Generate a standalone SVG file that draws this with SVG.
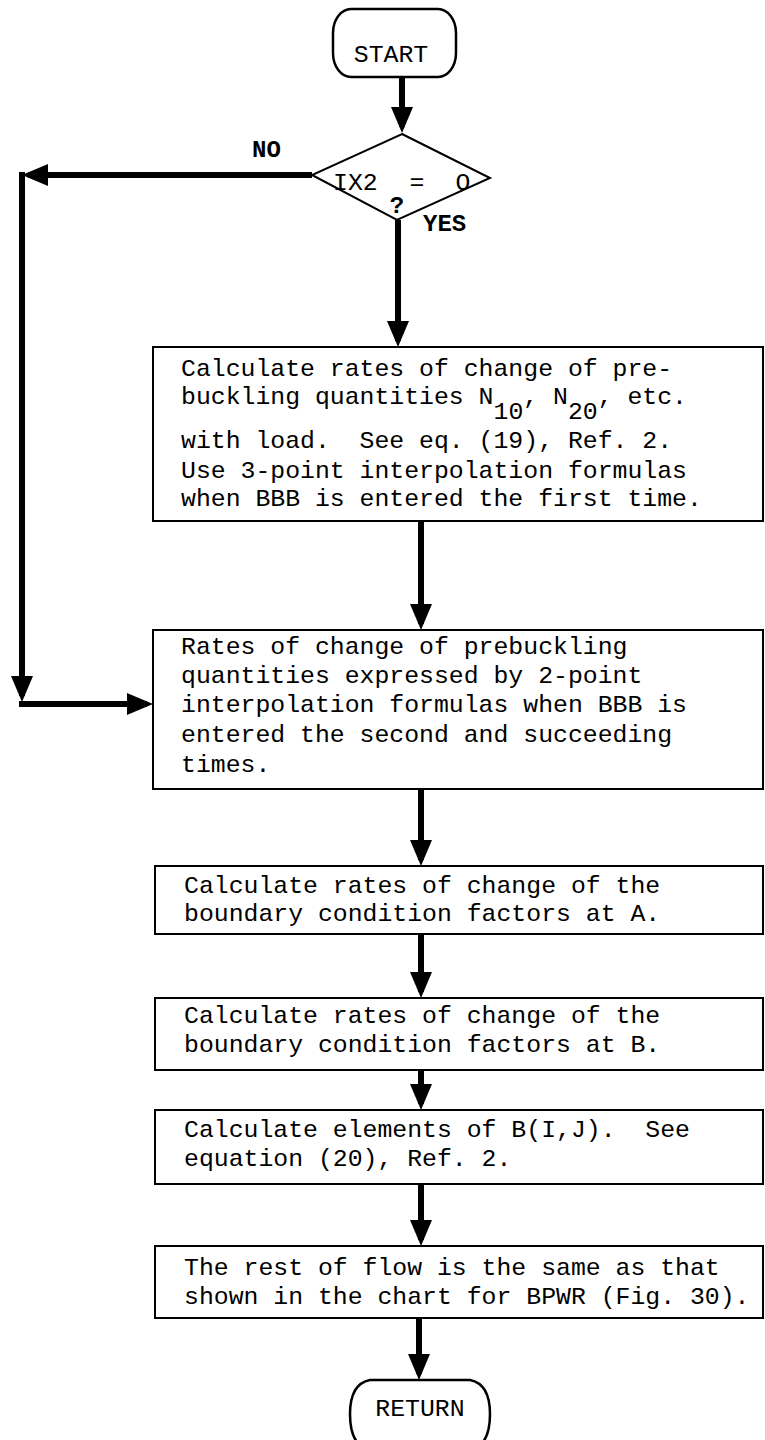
<svg xmlns="http://www.w3.org/2000/svg" width="765" height="1440" viewBox="0 0 765 1440">
  <style>
    .box { fill: #fff; stroke: #000; stroke-width: 2; }
    .term { fill: #fff; stroke: #000; stroke-width: 2.5; }
    .txt { font-family: "Liberation Mono", "DejaVu Sans Mono", monospace; font-size: 24.8px; fill: #000; }
    .lbl { font-family: "Liberation Mono", "DejaVu Sans Mono", monospace; font-size: 24px; font-weight: bold; fill: #000; }
    .flow { fill: none; stroke: #000; stroke-width: 6; }
  </style>
  <defs>
    <marker id="head" markerUnits="userSpaceOnUse" markerWidth="28" markerHeight="24" refX="20" refY="11" orient="auto">
      <path d="M0,0 L26,11 L0,22 Z" fill="#000"/>
    </marker>
  </defs>
  <rect width="765" height="1440" fill="#fff"/>

  <!-- connectors -->
  <g id="connectors">
    <path class="flow" d="M402,77 V127" marker-end="url(#head)"/>
    <path class="flow" d="M312,175 H28" marker-end="url(#head)"/>
    <path class="flow" d="M22,172 V696" marker-end="url(#head)"/>
    <path class="flow" d="M19,704 H147" marker-end="url(#head)"/>
    <path class="flow" d="M398,220 V341" marker-end="url(#head)"/>
    <path class="flow" d="M421,521 V624" marker-end="url(#head)"/>
    <path class="flow" d="M421,789 V860" marker-end="url(#head)"/>
    <path class="flow" d="M421,934 V992" marker-end="url(#head)"/>
    <path class="flow" d="M421,1070 V1104" marker-end="url(#head)"/>
    <path class="flow" d="M421,1184 V1240" marker-end="url(#head)"/>
    <path class="flow" d="M419,1318 V1374" marker-end="url(#head)"/>
    <text class="lbl" x="252" y="157">NO</text>
    <text class="lbl" x="423" y="231">YES</text>
  </g>

  <!-- start terminal -->
  <g id="start">
    <rect class="term" x="333" y="9" width="123" height="68" rx="18" ry="24"/>
    <text class="txt" x="391" y="62" text-anchor="middle">START</text>
  </g>

  <!-- decision -->
  <g id="decision">
    <polygon class="box" points="402,134 490,178 397,220 312,175"/>
    <text class="txt" x="333" y="190">IX2</text>
    <text class="txt" x="417" y="190" text-anchor="middle">=</text>
    <text class="txt" x="463" y="190" text-anchor="middle">O</text>
    <text class="lbl" x="397" y="213" text-anchor="middle" font-size="22">?</text>
  </g>

  <!-- first-entry rates -->
  <g id="first-rates">
    <rect class="box" x="153" y="347" width="610" height="174"/>
    <text class="txt" x="181" y="376">Calculate rates of change of pre-</text>
    <text class="txt" x="181" y="404">buckling quantities N<tspan dy="15">10</tspan><tspan dy="-15">, N</tspan><tspan dy="15">20</tspan><tspan dy="-15">, etc.</tspan></text>
    <text class="txt" x="181" y="448" xml:space="preserve">with load.  See eq. (19), Ref. 2.</text>
    <text class="txt" x="181" y="478">Use 3-point interpolation formulas</text>
    <text class="txt" x="181" y="506">when BBB is entered the first time.</text>
  </g>

  <!-- later-entry rates -->
  <g id="later-rates">
    <rect class="box" x="153" y="630" width="610" height="159"/>
    <text class="txt" x="181" y="654">Rates of change of prebuckling</text>
    <text class="txt" x="181" y="683">quantities expressed by 2-point</text>
    <text class="txt" x="181" y="712">interpolation formulas when BBB is</text>
    <text class="txt" x="181" y="742">entered the second and succeeding</text>
    <text class="txt" x="181" y="772">times.</text>
  </g>

  <!-- boundary factors at A -->
  <g id="factors-a">
    <rect class="box" x="155" y="866" width="608" height="68"/>
    <text class="txt" x="184" y="893">Calculate rates of change of the</text>
    <text class="txt" x="184" y="921">boundary condition factors at A.</text>
  </g>

  <!-- boundary factors at B -->
  <g id="factors-b">
    <rect class="box" x="155" y="998" width="608" height="72"/>
    <text class="txt" x="184" y="1023">Calculate rates of change of the</text>
    <text class="txt" x="184" y="1052">boundary condition factors at B.</text>
  </g>

  <!-- matrix elements -->
  <g id="elements">
    <rect class="box" x="155" y="1110" width="608" height="74"/>
    <text class="txt" x="184" y="1137" xml:space="preserve">Calculate elements of B(I,J).  See</text>
    <text class="txt" x="184" y="1166">equation (20), Ref. 2.</text>
  </g>

  <!-- remainder of flow -->
  <g id="rest-of-flow">
    <rect class="box" x="155" y="1246" width="608" height="72"/>
    <text class="txt" x="184" y="1275">The rest of flow is the same as that</text>
    <text class="txt" x="184" y="1304">shown in the chart for BPWR (Fig. 30).</text>
  </g>

  <!-- return terminal -->
  <g id="return">
    <path class="term" d="M370,1380 H470 Q490,1384 490,1414 Q490,1446 470,1450 H370 Q350,1446 350,1414 Q350,1384 370,1380 Z"/>
    <text class="txt" x="420" y="1416" text-anchor="middle">RETURN</text>
  </g>
</svg>
